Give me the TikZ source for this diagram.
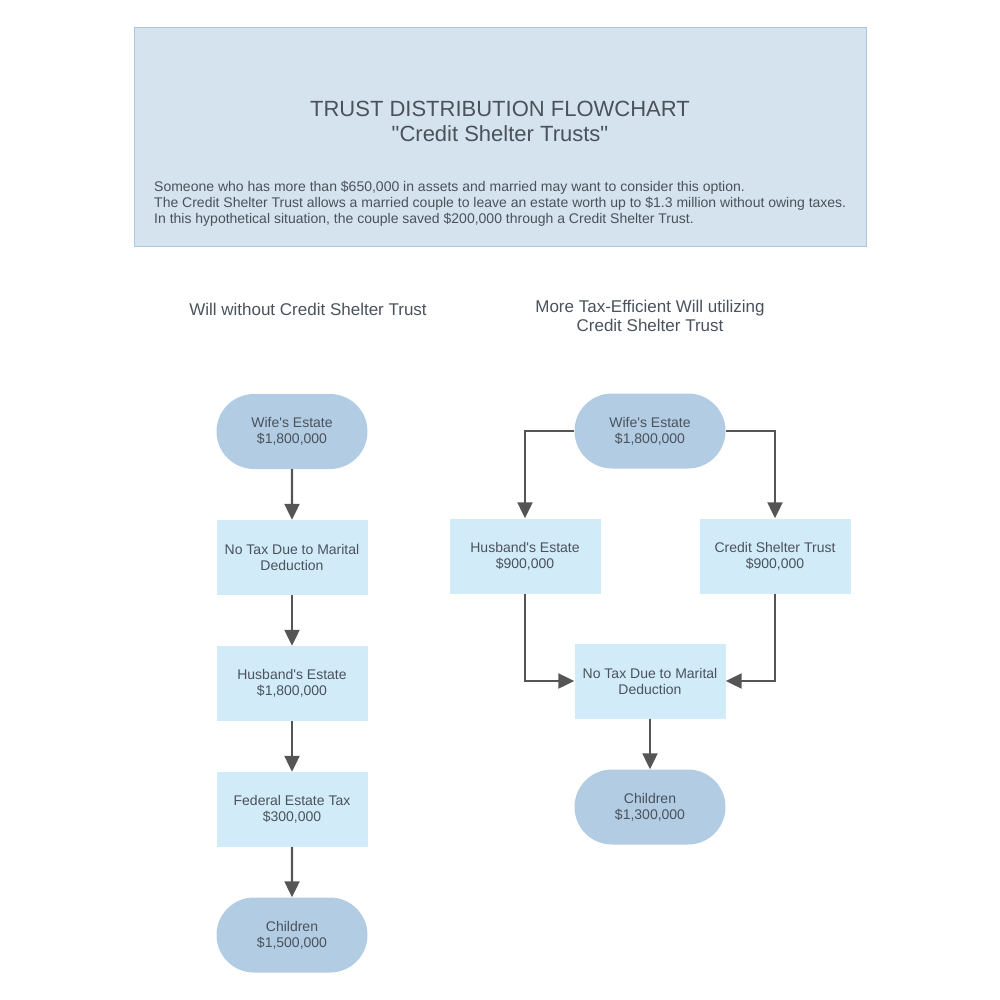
\documentclass[tikz,border=0pt]{standalone}
\usepackage{fontspec}
\setmainfont{Liberation Sans}[Ligatures=TeXOff]
\usetikzlibrary{arrows.meta,shapes.misc}
\definecolor{headfill}{HTML}{D5E3EE}
\definecolor{headline}{HTML}{A9C8E0}
\definecolor{termfill}{HTML}{B1CCE3}
\definecolor{procfill}{HTML}{D2EBF8}
\definecolor{arrowgray}{HTML}{555555}
\definecolor{textgray}{HTML}{4A525C}
\begin{document}
\begin{tikzpicture}[x=1pt, y=-1pt,
    terminal/.style={rounded rectangle, fill=termfill, minimum width=151pt, minimum height=75pt,
        inner sep=0pt, align=center, text=textgray, font=\fontsize{14}{16}\selectfont},
    process/.style={rectangle, fill=procfill, minimum width=151pt, minimum height=75pt,
        inner sep=0pt, align=center, text=textgray, font=\fontsize{14}{16}\selectfont},
    flow/.style={draw=arrowgray, line width=2.2pt, -{Triangle[length=16pt,width=15pt]}}]
    \useasboundingbox (0,0) rectangle (1000,1000);

    % Header panel
    \node[draw=headline, fill=headfill, minimum width=732pt, minimum height=219pt, inner sep=0pt] (header) at (500,136.5) {};
    \node[text=textgray, align=center, font=\fontsize{22}{25}\selectfont] (title) at (500,121) {TRUST DISTRIBUTION FLOWCHART\\"Credit Shelter Trusts"};
    \node[anchor=west, text=textgray, align=left, inner sep=0pt, font=\fontsize{14}{16}\selectfont] (intro) at (154,204)
        {Someone who has more than \$650,000 in assets and married may want to consider this option.\\
         The Credit Shelter Trust allows a married couple to leave an estate worth up to \$1.3 million without owing taxes.\\
         In this hypothetical situation, the couple saved \$200,000 through a Credit Shelter Trust.};

    % Column headings
    \node[text=textgray, font=\fontsize{17}{19}\selectfont] (lefthead) at (308,309) {Will without Credit Shelter Trust};
    \node[text=textgray, align=center, font=\fontsize{17}{19}\selectfont] (righthead) at (650,316) {More Tax-Efficient Will utilizing\\Credit Shelter Trust};

    % Left chart
    \node[terminal] (lwife) at (292,431.5) {Wife's Estate\\\$1,800,000};
    \node[process] (ltax) at (292,557.5) {No Tax Due to Marital\\Deduction};
    \node[process] (lhusband) at (292,683.5) {Husband's Estate\\\$1,800,000};
    \node[process] (lfederal) at (292,809.5) {Federal Estate Tax\\\$300,000};
    \node[terminal] (lchildren) at (292,935) {Children\\\$1,500,000};

    \draw[flow] (lwife) -- (ltax);
    \draw[flow] (ltax) -- (lhusband);
    \draw[flow] (lhusband) -- (lfederal);
    \draw[flow] (lfederal) -- (lchildren);

    % Right chart
    \node[terminal] (rwife) at (650,431) {Wife's Estate\\\$1,800,000};
    \node[process] (rhusband) at (525,556) {Husband's Estate\\\$900,000};
    \node[process] (rtrust) at (775,556) {Credit Shelter Trust\\\$900,000};
    \node[process] (rtax) at (650,681) {No Tax Due to Marital\\Deduction};
    \node[terminal] (rchildren) at (650,807) {Children\\\$1,300,000};

    \draw[flow] (rwife.west) -| (rhusband.north);
    \draw[flow] (rwife.east) -| (rtrust.north);
    \draw[flow] (rhusband.south) |- (rtax.west);
    \draw[flow] (rtrust.south) |- (rtax.east);
    \draw[flow] (rtax) -- (rchildren);
\end{tikzpicture}
\end{document}
